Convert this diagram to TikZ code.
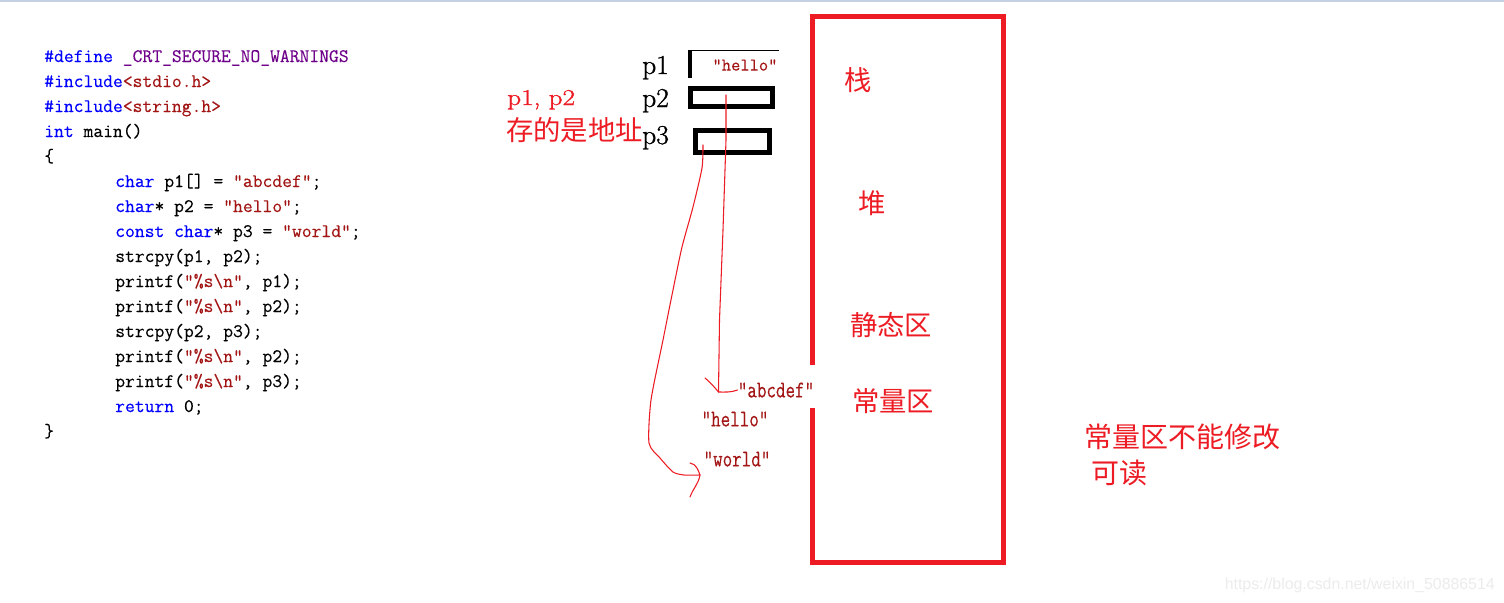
\documentclass[tikz,border=0pt]{standalone}
\usepackage{fontspec}
\newfontfamily\cjk{Noto Sans CJK SC}
\newfontfamily\wmfont{Liberation Sans}
\newfontfamily\codefont[FakeBold=0.3]{Latin Modern Mono}
\newfontfamily\pfont[FakeBold=1.2]{Latin Modern Roman}
\definecolor{pred}{HTML}{ED1C24}
\definecolor{kw}{HTML}{0000FF}
\definecolor{strc}{HTML}{A31515}
\definecolor{mac}{HTML}{6F008A}
\definecolor{topline}{HTML}{C5D0E3}
\definecolor{wmgray}{HTML}{ECECEC}
\newcommand{\kwd}[1]{\textcolor{kw}{#1}}
\newcommand{\strg}[1]{\textcolor{strc}{#1}}
\newcommand{\macr}[1]{\textcolor{mac}{#1}}
\tikzset{
  code/.style={anchor=base west, inner sep=0pt, font={\codefont\fontsize{14.3}{16}\selectfont}},
  plabel/.style={anchor=base west, inner sep=0pt, font={\pfont\fontsize{20.5}{22}\selectfont}},
  redcjk/.style={inner sep=0pt, text=pred, font={\cjk\fontsize{20.5}{24}\selectfont}},
  memstr/.style={inner sep=0pt, text=strc, font={\codefont\fontsize{13.9}{16}\selectfont}},
  ptrbox/.style={draw=black, line width=3.4pt, inner sep=0pt, outer sep=0pt},
  handarrow/.style={draw=pred, line width=0.8pt, line cap=round, line join=round},
}
\begin{document}
\begin{tikzpicture}[x=0.75pt,y=-0.75pt]
\fill[white] (0,0) rectangle (1504,603);
\useasboundingbox (0,0) rectangle (1504,603);
\draw[topline, line width=1.5pt] (0,0.8) -- (1504,0.8);

% code listing
\node[code] (l1) at (44,62) {\kwd{\#define} \macr{\_CRT\_SECURE\_NO\_WARNINGS}};
\node[code] (l2) at (44,87) {\kwd{\#include}\strg{<stdio.h>}};
\node[code] (l3) at (44,112) {\kwd{\#include}\strg{<string.h>}};
\node[code] (l4) at (44,137) {\kwd{int} main()};
\node[code] (l5) at (44,162) {\{};
\node[code] (l6) at (115,187) {\kwd{char} p1[] = \strg{"abcdef"};};
\node[code] (l7) at (115,212) {\kwd{char}* p2 = \strg{"hello"};};
\node[code] (l8) at (115,237) {\kwd{const} \kwd{char}* p3 = \strg{"world"};};
\node[code] (l9) at (115,262) {strcpy(p1, p2);};
\node[code] (l10) at (115,287) {printf(\strg{"\%s\textbackslash n"}, p1);};
\node[code] (l11) at (115,312) {printf(\strg{"\%s\textbackslash n"}, p2);};
\node[code] (l12) at (115,337) {strcpy(p2, p3);};
\node[code] (l13) at (115,362) {printf(\strg{"\%s\textbackslash n"}, p2);};
\node[code] (l14) at (115,387) {printf(\strg{"\%s\textbackslash n"}, p3);};
\node[code] (l15) at (115,412) {\kwd{return} 0;};
\node[code] (l16) at (44,437) {\}};

% pointer labels
\node[plabel] (p1) at (642,74) {p1};
\node[plabel] (p2) at (642,107) {p2};
\node[plabel] (p3) at (642,144) {p3};

% p1 partial box
\draw[black, line width=3pt] (690,50) -- (690,77.5);
\draw[black, line width=1.2pt] (688.5,50.5) -- (779,50.5);
\node[memstr, font={\codefont\fontsize{13.5}{15}\selectfont}] (p1str) at (745,65) {"hello"};

% p2 and p3 boxes
\node[ptrbox, minimum width=61.5pt, minimum height=13.5pt] (p2box) at (731.5,97.5) {};
\node[ptrbox, minimum width=55.5pt, minimum height=16.5pt] (p3box) at (732.5,141.5) {};

% red note
\node[inner sep=0pt, anchor=base west, text=pred, font={\pfont\fontsize{17}{20}\selectfont}] (note1) at (507,105) {\scalebox{1.2}[1]{p1, p2}};
\node[redcjk, anchor=west] (note2) at (506,130) {存的是地址};

% memory column
\draw[pred, line width=3.75pt, line join=miter]
  (812.5,365) -- (812.5,16.5) -- (1003.5,16.5) -- (1003.5,562.5) -- (812.5,562.5) -- (812.5,408);

\node[redcjk] (stack) at (858,80) {栈};
\node[redcjk] (heap) at (872,203) {堆};
\node[redcjk] (static) at (891,325) {静态区};
\node[redcjk] (const) at (893,401) {常量区};

% string literals
\node[memstr] (sabc) at (776,390) {\scalebox{1}[1.3]{"abcdef"}};
\node[memstr] (shello) at (735,419) {\scalebox{1}[1.3]{"hello"}};
\node[memstr] (sworld) at (737,459) {\scalebox{1}[1.3]{"world"}};

% hand drawn arrows
\coordinate (a2s) at (726,95);
\coordinate (a2e) at (718.5,392);
\draw[handarrow] (a2s) -- (726,140) -- (723,230) -- (719.5,320) -- (a2e);
\draw[handarrow] (705,378) to[out=-40,in=130] (a2e) to[out=0,in=200] (sabc.west);

\coordinate (a3s) at (703,145);
\coordinate (a3e) at (700,475);
\draw[handarrow] plot[smooth, tension=0.4] coordinates {(a3s) (702,168) (693,207) (682,247) (673,290) (663,340) (651,400) (649,443) (660,458) (673,472) (684,475) (a3e)};
\draw[handarrow] (690,463) to[out=-10,in=110] (a3e) to[out=-100,in=70] (690,497);

% side note
\node[redcjk, anchor=west, font={\cjk\fontsize{21}{24}\selectfont}] (ro1) at (1084,437) {常量区不能修改};
\node[redcjk, anchor=west, font={\cjk\fontsize{21}{24}\selectfont}] (ro2) at (1091,473) {可读};

% watermark
\node[inner sep=0pt, anchor=east, text=wmgray, font={\wmfont\fontsize{11.9}{13}\selectfont}] (wm) at (1495,585) {https://blog.csdn.net/weixin\_50886514};
\end{tikzpicture}
\end{document}
